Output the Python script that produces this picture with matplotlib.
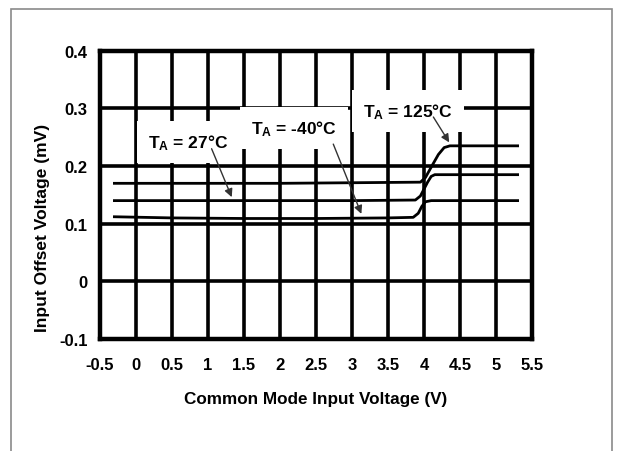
import matplotlib
matplotlib.use("Agg")
import matplotlib.pyplot as plt
from matplotlib.patches import Rectangle

# ---- data ----
x_m40 = [-0.3, 0.5, 1.5, 2.5, 3.5, 3.85, 3.92, 3.97, 4.02, 4.1, 5.3]
y_m40 = [0.112, 0.110, 0.109, 0.109, 0.110, 0.111, 0.118, 0.130, 0.138, 0.140, 0.140]

x_27 = [-0.3, 1.0, 2.0, 3.0, 3.88, 3.95, 4.0, 4.05, 4.1, 4.15, 5.3]
y_27 = [0.140, 0.140, 0.140, 0.140, 0.141, 0.148, 0.160, 0.172, 0.182, 0.185, 0.185]

x_125 = [-0.3, 1.0, 2.0, 3.0, 3.95, 4.02, 4.1, 4.2, 4.28, 4.36, 5.3]
y_125 = [0.170, 0.170, 0.170, 0.171, 0.172, 0.180, 0.198, 0.220, 0.232, 0.235, 0.235]

x_ticks = [-0.5, 0, 0.5, 1, 1.5, 2, 2.5, 3, 3.5, 4, 4.5, 5, 5.5]
x_ticklabels = ["-0.5", "0", "0.5", "1", "1.5", "2", "2.5", "3", "3.5", "4", "4.5", "5", "5.5"]
y_ticks = [-0.1, 0, 0.1, 0.2, 0.3, 0.4]
y_ticklabels = ["-0.1", "0", "0.1", "0.2", "0.3", "0.4"]

labels = [r"T$\mathregular{_A}$ = 27°C", r"T$\mathregular{_A}$ = -40°C", r"T$\mathregular{_A}$ = 125°C"]
label_pos = [(0.72, 0.241), (2.19, 0.266), (3.78, 0.296)]
arrow_from = [(1.05, 0.230), (2.74, 0.238), (4.13, 0.285)]
arrow_to = [(1.33, 0.146), (3.13, 0.117), (4.35, 0.241)]

plt.rcParams['font.family'] = ['Liberation Sans', 'DejaVu Sans']

fig = plt.figure(figsize=(6.19, 4.52), dpi=100)
# outer gray border
fig.patches.append(Rectangle((11/619, -0.05), (612-11)/619, (452-10)/452 + 0.05,
                             transform=fig.transFigure, fill=False,
                             edgecolor='#8a8a8a', linewidth=1.2))

ax = fig.add_axes([100/619, 112/452, 432/619, 288.3/452])
ax.set_xlim(-0.5, 5.5)
ax.set_ylim(-0.1, 0.4)
ax.set_xticks(x_ticks)
ax.set_xticklabels(x_ticklabels)
ax.set_yticks(y_ticks)
ax.set_yticklabels(y_ticklabels)
ax.tick_params(axis='x', length=0, labelsize=12, pad=13)
ax.tick_params(axis='y', length=0, labelsize=12, pad=9)
for lab in ax.get_xticklabels() + ax.get_yticklabels():
    lab.set_fontweight('bold')
ax.grid(True, color='black', linewidth=2.6)
ax.set_axisbelow(True)
for sp in ax.spines.values():
    sp.set_linewidth(3.2)
    sp.set_zorder(3)

ax.plot(x_m40, y_m40, color='black', linewidth=2, zorder=4)
ax.plot(x_27, y_27, color='black', linewidth=2, zorder=4)
ax.plot(x_125, y_125, color='black', linewidth=2, zorder=4)

for txt, pos in zip(labels, label_pos):
    ax.text(pos[0], pos[1], txt, ha='center', va='center', fontsize=12.5,
            fontweight='bold', zorder=5,
            bbox=dict(facecolor='white', edgecolor='none', pad=8))

for a, b in zip(arrow_from, arrow_to):
    ax.annotate("", xy=b, xytext=a, zorder=6,
                arrowprops=dict(arrowstyle='-|>', color='#333333', lw=1,
                                mutation_scale=12, shrinkA=0, shrinkB=0))

ax.set_xlabel("Common Mode Input Voltage (V)", fontsize=12.3, fontweight='bold', labelpad=14)
ax.set_ylabel("Input Offset Voltage (mV)", fontsize=12.5, fontweight='bold')
ax.yaxis.set_label_coords(-0.115, 0.39)

fig.savefig("out.png", dpi=100)
